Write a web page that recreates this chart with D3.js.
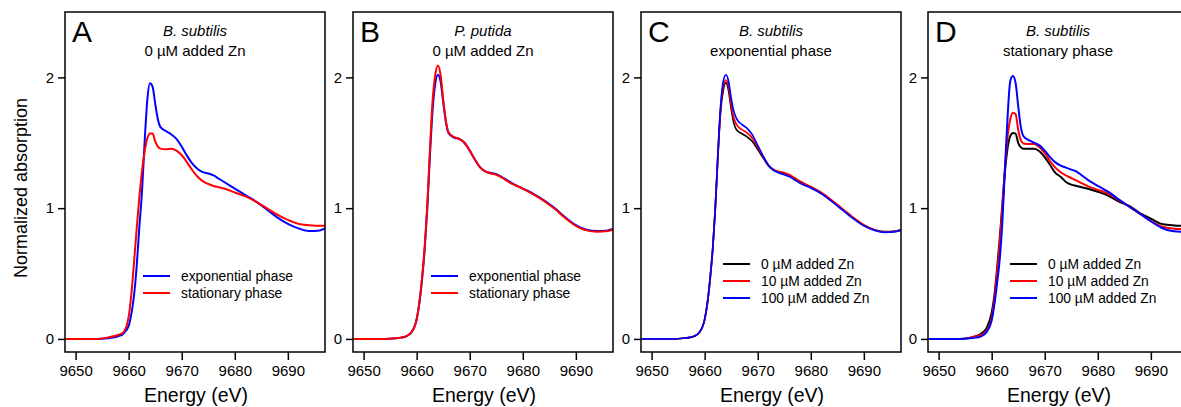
<!DOCTYPE html>
<html>
<head>
<meta charset="utf-8">
<script src="https://cdn.jsdelivr.net/npm/d3@7"></script>
<style>
    body { margin: 0; background: #fff; }
    svg { font-family: "Liberation Sans", Arial, sans-serif; }
    .axis text { font-size: 15px; fill: #000; }
    .axis path { display: none; }
    .axis line { stroke: #000; stroke-width: 1.5; }
</style>
</head>
<body>
<div id="chart"></div>
<script>
// energy grid (eV) shared by every spectrum
const energy = [9648, 9650, 9652, 9654, 9656, 9657, 9658, 9659, 9660, 9660.5, 9661, 9661.5, 9662, 9662.5,
    9663, 9663.5, 9664, 9664.5, 9665, 9665.5, 9666, 9667, 9668, 9669, 9670, 9671, 9672, 9673, 9674, 9675,
    9676, 9677, 9678, 9680, 9682, 9684, 9686, 9688, 9690, 9692, 9694, 9696, 9697];

// A - B. subtilis, 0 uM Zn
const aExponential = [0, 0, 0, 0, 0.005, 0.01, 0.02, 0.04, 0.1, 0.19, 0.33, 0.55, 0.85, 1.12,
    1.5, 1.82, 1.955, 1.93, 1.8, 1.68, 1.62, 1.59, 1.565, 1.53, 1.47, 1.4, 1.34, 1.3, 1.275, 1.265,
    1.25, 1.225, 1.2, 1.15, 1.1, 1.05, 0.99, 0.93, 0.88, 0.845, 0.825, 0.83, 0.845];
const aStationary = [0, 0, 0, 0, 0.01, 0.02, 0.03, 0.05, 0.17, 0.34, 0.58, 0.84, 1.08, 1.28,
    1.43, 1.53, 1.57, 1.57, 1.51, 1.47, 1.455, 1.45, 1.455, 1.44, 1.405, 1.35, 1.29, 1.24, 1.205, 1.185,
    1.17, 1.16, 1.15, 1.12, 1.09, 1.05, 1.0, 0.95, 0.91, 0.88, 0.87, 0.865, 0.865];

// B - P. putida, 0 uM Zn
const bExponential = [0, 0, 0, 0, 0.005, 0.01, 0.02, 0.05, 0.15, 0.27, 0.45, 0.68, 1.0, 1.4,
    1.75, 1.95, 2.02, 1.97, 1.81, 1.66, 1.575, 1.54, 1.53, 1.5, 1.44, 1.37, 1.31, 1.28, 1.27, 1.26,
    1.24, 1.215, 1.19, 1.15, 1.11, 1.06, 1.0, 0.93, 0.87, 0.835, 0.825, 0.83, 0.84];
const bStationary = [0, 0, 0, 0, 0.005, 0.01, 0.02, 0.05, 0.15, 0.28, 0.46, 0.7, 1.02, 1.45,
    1.82, 2.02, 2.09, 2.02, 1.83, 1.67, 1.58, 1.545, 1.53, 1.5, 1.44, 1.37, 1.31, 1.28, 1.265, 1.255,
    1.235, 1.21, 1.185, 1.15, 1.105, 1.055, 0.995, 0.925, 0.865, 0.83, 0.82, 0.825, 0.835];

// C - B. subtilis, exponential phase
const cZn0 = [0, 0, 0, 0, 0.005, 0.01, 0.02, 0.05, 0.15, 0.27, 0.45, 0.68, 1.0, 1.4,
    1.74, 1.9, 1.96, 1.9, 1.76, 1.65, 1.6, 1.57, 1.545, 1.51, 1.45, 1.385, 1.325, 1.29, 1.275, 1.265,
    1.25, 1.225, 1.2, 1.16, 1.115, 1.055, 0.99, 0.925, 0.87, 0.835, 0.82, 0.825, 0.835];
const cZn10 = [0, 0, 0, 0, 0.005, 0.01, 0.02, 0.05, 0.15, 0.27, 0.45, 0.68, 1.0, 1.41,
    1.76, 1.93, 1.98, 1.93, 1.79, 1.69, 1.64, 1.6, 1.575, 1.535, 1.465, 1.395, 1.33, 1.295, 1.28, 1.27,
    1.255, 1.23, 1.205, 1.165, 1.12, 1.06, 0.995, 0.93, 0.872, 0.835, 0.818, 0.822, 0.832];
const cZn100 = [0, 0, 0, 0, 0.005, 0.01, 0.02, 0.05, 0.15, 0.27, 0.45, 0.68, 1.0, 1.42,
    1.78, 1.97, 2.02, 1.97, 1.84, 1.74, 1.685, 1.64, 1.61, 1.56, 1.48, 1.4, 1.33, 1.29, 1.27, 1.255,
    1.24, 1.215, 1.19, 1.155, 1.11, 1.05, 0.985, 0.92, 0.865, 0.83, 0.815, 0.82, 0.83];

// D - B. subtilis, stationary phase
const dZn0 = [0, 0, 0, 0, 0.01, 0.02, 0.04, 0.08, 0.2, 0.33, 0.53, 0.76, 1.02, 1.28,
    1.46, 1.55, 1.575, 1.57, 1.5, 1.465, 1.455, 1.455, 1.455, 1.435, 1.39, 1.33, 1.27, 1.24, 1.2, 1.18,
    1.17, 1.16, 1.15, 1.125, 1.095, 1.05, 1.015, 0.96, 0.92, 0.88, 0.87, 0.865, 0.865];
const dZn10 = [0, 0, 0, 0, 0.01, 0.02, 0.03, 0.06, 0.16, 0.3, 0.5, 0.72, 1.0, 1.3,
    1.55, 1.68, 1.73, 1.72, 1.6, 1.52, 1.495, 1.49, 1.49, 1.465, 1.42, 1.36, 1.31, 1.275, 1.25, 1.23,
    1.21, 1.19, 1.17, 1.14, 1.11, 1.06, 1.01, 0.955, 0.9, 0.86, 0.845, 0.84, 0.84];
const dZn100 = [0, 0, 0, 0, 0.005, 0.01, 0.02, 0.05, 0.14, 0.26, 0.42, 0.6, 0.88, 1.3,
    1.7, 1.97, 2.01, 1.96, 1.78, 1.62, 1.55, 1.52, 1.5, 1.48, 1.44, 1.39, 1.35, 1.325, 1.31, 1.295,
    1.28, 1.25, 1.22, 1.17, 1.125, 1.065, 1.01, 0.955, 0.9, 0.85, 0.825, 0.82, 0.82];

// ticks
const xTicks = [9650, 9660, 9670, 9680, 9690];
const yTicks = [0, 1, 2];

const panels = [
    {letter: "A", species: "B. subtilis", subtitle: "0 \u00b5M added Zn", legendTop: 276,
        series: [
            {name: "exponential phase", color: "#0000ff", values: aExponential},
            {name: "stationary phase", color: "#ff0000", values: aStationary}
        ]},
    {letter: "B", species: "P. putida", subtitle: "0 \u00b5M added Zn", legendTop: 276,
        series: [
            {name: "exponential phase", color: "#0000ff", values: bExponential},
            {name: "stationary phase", color: "#ff0000", values: bStationary}
        ]},
    {letter: "C", species: "B. subtilis", subtitle: "exponential phase", legendTop: 264,
        series: [
            {name: "0 \u00b5M added Zn", color: "#000000", values: cZn0},
            {name: "10 \u00b5M added Zn", color: "#ff0000", values: cZn10},
            {name: "100 \u00b5M added Zn", color: "#0000ff", values: cZn100}
        ]},
    {letter: "D", species: "B. subtilis", subtitle: "stationary phase", legendTop: 264,
        series: [
            {name: "0 \u00b5M added Zn", color: "#000000", values: dZn0},
            {name: "10 \u00b5M added Zn", color: "#ff0000", values: dZn10},
            {name: "100 \u00b5M added Zn", color: "#0000ff", values: dZn100}
        ]}
];

const width = 1181, height = 407;
const panelLeft = [65, 353, 641, 928];
const pw = 260, plotTop = 12, ph = 340;

const svg = d3.select("#chart").append("svg")
    .attr("width", width)
    .attr("height", height);

// y axis title
svg.append("text")
    .attr("transform", "translate(27,188) rotate(-90)")
    .attr("text-anchor", "middle")
    .attr("font-size", 18)
    .text("Normalized absorption");

const x = d3.scaleLinear().domain([9648, 9697]).range([0, pw]);
const y = d3.scaleLinear().domain([-0.1, 2.5]).range([ph, 0]);

const line = d3.line()
    .x((d, i) => x(energy[i]))
    .y(d => y(d))
    .curve(d3.curveMonotoneX);

panels.forEach((p, k) => {
    let g = svg.append("g")
        .attr("transform", "translate(" + panelLeft[k] + "," + plotTop + ")");

    g.append("defs").append("clipPath")
        .attr("id", "clip" + k)
        .append("rect")
        .attr("width", pw)
        .attr("height", ph);

    // axes
    g.append("g")
        .attr("class", "axis")
        .attr("transform", "translate(0," + ph + ")")
        .call(d3.axisBottom(x).tickValues(xTicks).tickSize(8).tickPadding(5).tickFormat(d3.format("d")));

    g.append("g")
        .attr("class", "axis")
        .call(d3.axisLeft(y).tickValues(yTicks).tickSize(7).tickPadding(4).tickFormat(d3.format("d")));

    // spectra
    g.append("g")
        .attr("clip-path", "url(#clip" + k + ")")
        .selectAll("path")
        .data(p.series)
        .enter().append("path")
        .attr("fill", "none")
        .attr("stroke", d => d.color)
        .attr("stroke-width", k == 2 ? 1.7 : 2)
        .attr("d", d => line(d.values));

    // frame
    g.append("rect")
        .attr("width", pw)
        .attr("height", ph)
        .attr("fill", "none")
        .attr("stroke", "#000")
        .attr("stroke-width", 1.5);

    // letter + titles
    g.append("text")
        .attr("x", 7)
        .attr("y", 30)
        .attr("font-size", 30)
        .text(p.letter);

    g.append("text")
        .attr("x", pw / 2)
        .attr("y", 24)
        .attr("text-anchor", "middle")
        .attr("font-size", 15)
        .attr("font-style", "italic")
        .text(p.species);

    g.append("text")
        .attr("x", pw / 2)
        .attr("y", 44)
        .attr("text-anchor", "middle")
        .attr("font-size", 15)
        .text(p.subtitle);

    // legend
    let lx = p.series.length == 2 ? 78 : 82;
    let leg = g.selectAll(".legend")
        .data(p.series)
        .enter().append("g")
        .attr("class", "legend")
        .attr("transform", (d, i) => "translate(" + lx + "," + (p.legendTop - plotTop + i * 17) + ")");
    leg.append("line")
        .attr("x1", 0).attr("x2", 27)
        .attr("stroke", d => d.color)
        .attr("stroke-width", 2);
    leg.append("text")
        .attr("x", 38)
        .attr("y", 5)
        .attr("font-size", 13.8)
        .text(d => d.name);

    // x axis title
    g.append("text")
        .attr("x", pw / 2 + 1)
        .attr("y", 390)
        .attr("text-anchor", "middle")
        .attr("font-size", 19.5)
        .text("Energy (eV)");
});
</script>
</body>
</html>
